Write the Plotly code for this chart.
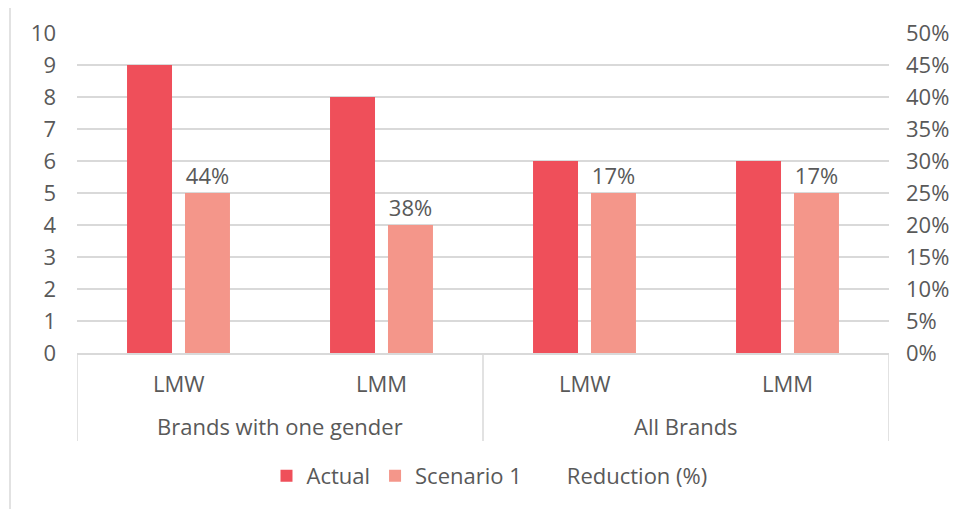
import plotly.graph_objects as go

# Chart data
groups = ["Brands with one gender", "Brands with one gender", "All Brands", "All Brands"]
measures = ["LMW", "LMM", "LMW", "LMM"]
actual = [9, 8, 6, 6]
scenario_1 = [5, 4, 5, 5]
reduction = [0.44, 0.38, 0.17, 0.17]

# one category per (group, measure) pair
keys = [f"{g} / {m}" for g, m in zip(groups, measures)]

TEXT = "#595959"
GRID = "#D9D9D9"
FONT = "Open Sans"
FS = 22

fig = go.Figure()

fig.add_trace(go.Bar(
    x=keys, y=actual, name="Actual",
    marker=dict(color="#EF4F5A", line=dict(width=0)),
))
fig.add_trace(go.Bar(
    x=keys, y=scenario_1, name="Scenario 1",
    marker=dict(color="#F4968A", line=dict(width=0)),
    text=[f"{r:.0%}" for r in reduction],
    textposition="outside",
    textfont=dict(size=FS, color=TEXT, family=FONT),
    cliponaxis=False,
))
# Reduction series on the secondary axis (no visible line or marker)
fig.add_trace(go.Scatter(
    x=keys, y=reduction, name="Reduction (%)", yaxis="y2",
    mode="lines", line=dict(width=0, color="rgba(0,0,0,0)"),
    hoverinfo="skip",
))

# two-level category labels under the axis
annotations = []
for k, m in zip(keys, measures):
    annotations.append(dict(
        x=k, xref="x", y=-0.094, yref="paper", text=m, showarrow=False,
        xanchor="center", yanchor="middle",
        font=dict(size=FS, color=TEXT, family=FONT),
    ))
group_names = list(dict.fromkeys(groups))
shapes = []
for gname in group_names:
    idx = [i for i, g in enumerate(groups) if g == gname]
    annotations.append(dict(
        x=(idx[0] + idx[-1]) / 2, xref="x", y=-0.228, yref="paper",
        text=gname, showarrow=False, xanchor="center", yanchor="middle",
        font=dict(size=FS, color=TEXT, family=FONT),
    ))
# group dividers
bounds = [-0.5] + [i + 0.5 for i in range(len(groups) - 1) if groups[i] != groups[i + 1]] + [len(groups) - 0.5]
for b in bounds:
    shapes.append(dict(
        type="line", xref="x", yref="paper", x0=b, x1=b, y0=0, y1=-0.275,
        line=dict(color=GRID, width=1.5),
    ))
# outer frame edge on the left
shapes.append(dict(
    type="line", xref="paper", yref="paper",
    x0=-67 / 812, x1=-67 / 812, y0=-0.4875, y1=1.078,
    line=dict(color=GRID, width=1.5),
))

fig.update_layout(
    width=963, height=509,
    margin=dict(l=77, r=74, t=33, b=156),
    paper_bgcolor="white", plot_bgcolor="white",
    font=dict(family=FONT, size=FS, color=TEXT),
    barmode="group", bargap=0.429, bargroupgap=0.224,
    showlegend=True,
    legend=dict(
        orientation="h", x=0.508, xanchor="center", y=-0.384, yanchor="middle",
        font=dict(size=FS, color=TEXT, family=FONT),
        itemwidth=30, traceorder="normal",
    ),
    xaxis=dict(
        type="category", range=[-0.5, len(keys) - 0.5],
        showline=True, linecolor=GRID, linewidth=1.5,
        showticklabels=False, ticks="", showgrid=False, zeroline=False,
    ),
    yaxis=dict(
        range=[0, 10], dtick=1, showgrid=True, gridcolor=GRID, gridwidth=1.5,
        zeroline=False, showline=False, ticks="", ticklabelstandoff=20,
        tickfont=dict(size=FS, color=TEXT, family=FONT),
    ),
    yaxis2=dict(
        overlaying="y", side="right", range=[0, 0.5], dtick=0.05,
        tickformat=".0%", showgrid=False, zeroline=False, showline=False,
        ticks="", ticklabelstandoff=16,
        tickfont=dict(size=FS, color=TEXT, family=FONT),
    ),
    annotations=annotations,
    shapes=shapes,
)

fig.write_html("out.html")
